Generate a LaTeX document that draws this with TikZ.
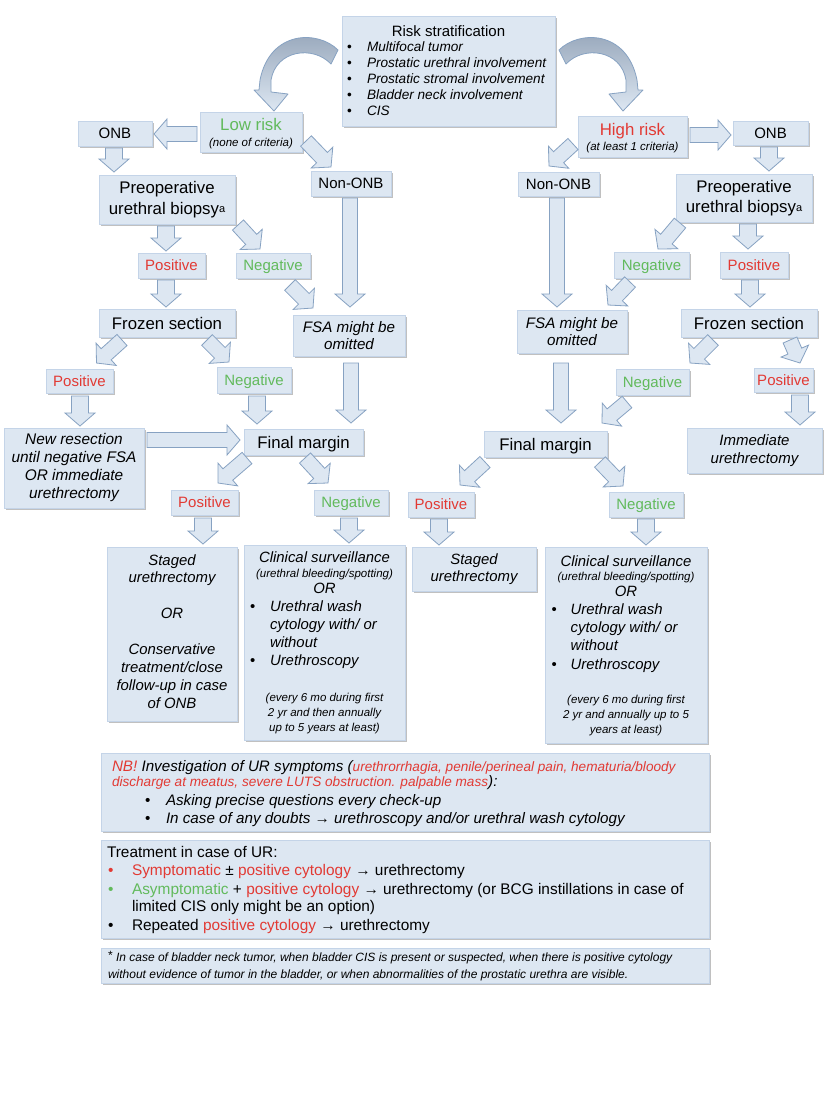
\documentclass[tikz,border=0pt]{standalone}
\usepackage{fontspec}
\setmainfont{Liberation Sans}
\usetikzlibrary{calc,shadows}

\definecolor{boxfill}{RGB}{221,231,242}
\definecolor{boxline}{RGB}{196,212,232}
\definecolor{arrowfill}{RGB}{221,231,242}
\definecolor{arrowline}{RGB}{135,162,194}
\definecolor{curvetop}{RGB}{150,166,186}
\definecolor{txtred}{RGB}{226,58,52}
\definecolor{txtgreen}{RGB}{98,186,92}

\newcommand\fs[2]{\fontsize{#1}{#2}\selectfont}
\newcommand\Lc[2]{\vskip#1\relax\hbox to\hsize{\hss\raisebox{0pt}[0pt][0pt]{#2}\hss}}
\newcommand\Ll[3]{\vskip#1\relax\hbox to\hsize{\hskip#2\relax\raisebox{0pt}[0pt][0pt]{#3}\hss}}
\newcommand\Lb[5]{\vskip#1\relax\hbox to\hsize{\hskip#2\relax\raisebox{0pt}[0pt][0pt]{\rlap{\upshape\color{#4}•}\hskip\dimexpr#3-#2\relax #5}\hss}}
\newcommand\Stack[3]{\vbox to#2{\hsize=#1\relax\offinterlineskip #3\vss}}

\newcommand\barrow[3][7.5pt]{%
 \coordinate (ba) at #2; \coordinate (bb) at #3;
 \coordinate (bh) at ($(bb)!13pt!(ba)$);
 \draw[blockarrow] ($(ba)!#1!90:(bb)$) -- ($(bh)!#1!90:(bb)$) -- ($(bh)!15pt!90:(bb)$) -- (bb)
   -- ($(bh)!15pt!-90:(bb)$) -- ($(bh)!#1!-90:(bb)$) -- ($(ba)!#1!-90:(bb)$) -- cycle;}

\begin{document}
\begin{tikzpicture}[x=1pt,y=-1pt,
  box/.style={draw=boxline, line width=0.6pt, fill=boxfill, inner sep=0pt, outer sep=0pt,
    drop shadow={shadow xshift=1.8pt, shadow yshift=-1.8pt, fill=black!70, opacity=0.35}},
  lbl/.style={box, text height=12.9pt, text depth=2.1pt, font=\fs{15}{18}},
  posbox/.style={lbl, text=txtred},
  negbox/.style={lbl, text=txtgreen},
  bigbox/.style={box, text height=14.4pt, text depth=2.4pt, font=\fs{16.8}{20}},
  multi/.style={box, align=center},
  blockarrow/.style={draw=arrowline, fill=arrowfill, line width=0.8pt, line join=miter},
  curvearrow/.style={draw=arrowline, line width=0.8pt, top color=curvetop, bottom color=arrowfill, line join=round}]

\fill[white] (0,0) rectangle (828,1096);
\useasboundingbox (0,0) rectangle (828,1096);

% ---------------- top ----------------
\node[box, minimum width=213pt, minimum height=110pt] (risk) at (448.5,71) {\Stack{213pt}{110pt}{\fs{13.6}{16}%
 \Lc{20.5pt}{\fs{15}{18}Risk stratification}%
 \Lb{14.5pt}{5pt}{25pt}{black}{\itshape Multifocal tumor}%
 \Lb{16.1pt}{5pt}{25pt}{black}{\itshape Prostatic urethral involvement}%
 \Lb{16.1pt}{5pt}{25pt}{black}{\itshape Prostatic stromal involvement}%
 \Lb{16.1pt}{5pt}{25pt}{black}{\itshape Bladder neck involvement}%
 \Lb{16.1pt}{5pt}{25pt}{black}{\itshape CIS}}};

\node[box, minimum width=102pt, minimum height=40pt] (lowR) at (251,132) {\Stack{102pt}{40pt}{%
 \Lc{18.7pt}{\fs{16.8}{20}\color{txtgreen}Low risk}%
 \Lc{16pt}{\fs{11.5}{13}\itshape (none of criteria)}}};
\node[box, minimum width=109pt, minimum height=41pt] (highR) at (632.5,136.5) {\Stack{109pt}{41pt}{%
 \Lc{19pt}{\fs{16.8}{20}\color{txtred}High risk}%
 \Lc{15pt}{\fs{11.5}{13}\itshape (at least 1 criteria)}}};

% ---------------- left branch ----------------
\node[lbl, minimum width=74pt, minimum height=25pt] (onbL) at (115,133.5) {ONB};
\node[lbl, minimum width=80pt, minimum height=25pt] (nonL) at (351,183.5) {Non-ONB};
\node[multi, font=\fs{16.8}{20.5}, minimum width=136pt, minimum height=49pt] (preL) at (167,199.5) {Preoperative\\urethral biopsy\raisebox{1.5pt}{\fs{11}{12}a}};
\node[posbox, minimum width=67pt, minimum height=25pt] (posL1) at (171.5,265.5) {Positive};
\node[negbox, minimum width=74pt, minimum height=25pt] (negL1) at (273,265.5) {Negative};
\node[bigbox, minimum width=136pt, minimum height=28pt] (frzL) at (167,323) {Frozen section};
\node[multi, font=\fs{15.2}{17.3}\itshape, minimum width=112pt, minimum height=41pt] (fsaL) at (349,335.5) {FSA might be\\omitted};
\node[posbox, minimum width=67pt, minimum height=24pt] (posL2) at (79.5,381) {Positive};
\node[negbox, minimum width=74pt, minimum height=26pt] (negL2) at (254,380) {Negative};
\node[multi, font=\fs{15.4}{18}\itshape, minimum width=140pt, minimum height=80pt] (newres) at (74,468) {New resection\\until negative FSA\\OR immediate\\urethrectomy};
\node[bigbox, minimum width=119pt, minimum height=26pt] (finL) at (303.5,442) {Final margin};
\node[posbox, minimum width=67pt, minimum height=25pt] (posL3) at (204.5,502.5) {Positive};
\node[negbox, minimum width=74pt, minimum height=25pt] (negL3) at (351,502.5) {Negative};
\node[box, minimum width=130pt, minimum height=174pt] (stgL) at (172,634) {\Stack{130pt}{174pt}{\itshape\fs{14.9}{18}%
 \Lc{18pt}{Staged}\Lc{17.9pt}{urethrectomy}\Lc{35.8pt}{OR}\Lc{35.8pt}{Conservative}%
 \Lc{17.9pt}{treatment/close}\Lc{17.9pt}{follow-up in case}\Lc{17.9pt}{of ONB}}};
\node[box, minimum width=161pt, minimum height=195pt] (clnL) at (324.5,642.5) {\Stack{161pt}{195pt}{\itshape\fs{14.9}{18}%
 \Lc{17.3pt}{Clinical surveillance}%
 \Lc{15.4pt}{\fs{11.5}{13}(urethral bleeding/spotting)}%
 \Lc{15.6pt}{OR}%
 \Lb{17.7pt}{6pt}{26pt}{black}{Urethral wash}%
 \Ll{18.2pt}{26pt}{cytology with/ or}%
 \Ll{18.2pt}{26pt}{without}%
 \Lb{18.2pt}{6pt}{26pt}{black}{Urethroscopy}%
 \Lc{35.9pt}{\fs{11.5}{13}(every 6 mo during first}%
 \Lc{15pt}{\fs{11.5}{13}2 yr and then annually}%
 \Lc{15pt}{\fs{11.5}{13}up to 5 years at least)}}};

% ---------------- right branch ----------------
\node[lbl, minimum width=75pt, minimum height=24pt] (onbR) at (770.5,133) {ONB};
\node[lbl, minimum width=81pt, minimum height=24pt] (nonR) at (558.5,184) {Non-ONB};
\node[multi, font=\fs{16.8}{20.5}, minimum width=136pt, minimum height=48pt] (preR) at (744,198) {Preoperative\\urethral biopsy\raisebox{1.5pt}{\fs{11}{12}a}};
\node[negbox, minimum width=75pt, minimum height=26pt] (negR1) at (651.5,265) {Negative};
\node[posbox, minimum width=68pt, minimum height=26pt] (posR1) at (754,265) {Positive};
\node[multi, font=\fs{15.2}{17.3}\itshape, minimum width=110pt, minimum height=43pt] (fsaR) at (572,331.5) {FSA might be\\omitted};
\node[bigbox, minimum width=136pt, minimum height=28pt] (frzR) at (749,323) {Frozen section};
\node[negbox, minimum width=73pt, minimum height=26pt] (negR2) at (652.5,382) {Negative};
\node[posbox, minimum width=59pt, minimum height=24pt] (posR2) at (783.5,380) {Positive};
\node[multi, font=\fs{15}{17.6}\itshape, minimum width=135pt, minimum height=45pt] (immR) at (754.5,450.5) {Immediate\\urethrectomy};
\node[bigbox, minimum width=123pt, minimum height=26pt] (finR) at (545.5,444) {Final margin};
\node[posbox, minimum width=66pt, minimum height=25pt] (posR3) at (441,504.5) {Positive};
\node[negbox, minimum width=74pt, minimum height=25pt] (negR3) at (646,504.5) {Negative};
\node[multi, font=\fs{14.9}{17.6}\itshape, minimum width=124pt, minimum height=44pt] (stgR) at (474,569) {Staged\\urethrectomy};
\node[box, minimum width=162pt, minimum height=196pt] (clnR) at (626,645) {\Stack{162pt}{196pt}{\itshape\fs{14.9}{18}%
 \Lc{19pt}{Clinical surveillance}%
 \Lc{14.5pt}{\fs{11.5}{13}(urethral bleeding/spotting)}%
 \Lc{16.2pt}{OR}%
 \Lb{17.3pt}{6.5pt}{25.7pt}{black}{Urethral wash}%
 \Ll{18.4pt}{25.7pt}{cytology with/ or}%
 \Ll{18.4pt}{25.7pt}{without}%
 \Lb{18.4pt}{6.5pt}{25.7pt}{black}{Urethroscopy}%
 \Lc{34.5pt}{\fs{11.5}{13}(every 6 mo during first}%
 \Lc{15pt}{\fs{11.5}{13}2 yr and annually up to 5}%
 \Lc{15pt}{\fs{11.5}{13}years at least)}}};

% ---------------- bottom notes ----------------
\node[box, minimum width=608pt, minimum height=78pt] (nb) at (405,792) {\Stack{608pt}{78pt}{\itshape\fs{15.2}{18}%
 \Ll{18pt}{11pt}{\textcolor{txtred}{NB!} Investigation of UR symptoms (\textcolor{txtred}{\fs{13.6}{16}urethrorrhagia, penile/perineal pain, hematuria/bloody}}%
 \Ll{15.7pt}{11pt}{\textcolor{txtred}{\fs{13.6}{16}discharge at meatus, severe LUTS obstruction. palpable mass}):}%
 \Lb{18.3pt}{44pt}{65pt}{black}{Asking precise questions every check-up}%
 \Lb{18.3pt}{44pt}{65pt}{black}{In case of any doubts → urethroscopy and/or urethral wash cytology}}};
\node[box, minimum width=608pt, minimum height=98pt] (trt) at (405,889) {\Stack{608pt}{98pt}{\fs{15.4}{18}%
 \Ll{17.3pt}{6pt}{Treatment in case of UR:}%
 \Lb{18.4pt}{7pt}{31pt}{txtred}{\textcolor{txtred}{Symptomatic} ± \textcolor{txtred}{positive cytology} → urethrectomy}%
 \Lb{18.3pt}{7pt}{31pt}{txtgreen}{\textcolor{txtgreen}{Asymptomatic} + \textcolor{txtred}{positive cytology} → urethrectomy (or BCG instillations in case of}%
 \Ll{17.7pt}{31pt}{limited CIS only might be an option)}%
 \Lb{18.3pt}{7pt}{31pt}{black}{Repeated \textcolor{txtred}{positive cytology} → urethrectomy}}};
\node[box, minimum width=608pt, minimum height=35pt] (fn) at (405,965.5) {\Stack{608pt}{35pt}{\itshape\fs{12}{14}%
 \Ll{13.7pt}{7pt}{{\upshape\raisebox{2pt}{*}} In case of bladder neck tumor, when bladder CIS is present or suspected, when there is positive cytology}%
 \Ll{16.6pt}{7pt}{without evidence of tumor in the bladder, or when abnormalities of the prostatic urethra are visible.}}};

% ---------------- curved arrows ----------------
\draw[curvearrow] (338,50) .. controls (318,30) and (270,30) .. (260,80) -- (259,90) -- (254,90) -- (274,111) -- (288,94) -- (271,92) -- (271,80) .. controls (276,50) and (313,45) .. (331,64) -- cycle;
\draw[curvearrow] (559,50) .. controls (579,30) and (627,30) .. (637,80) -- (638,90) -- (643,90) -- (623,111) -- (609,94) -- (626,92) -- (626,80) .. controls (621,50) and (584,45) .. (566,64) -- cycle;

% ---------------- block arrows, left ----------------
\barrow{($(lowR.west)+(-3,2)$)}{($(onbL.east)+(2,0.5)$)}
\barrow{($(lowR.east)+(4,9)$)}{($(nonL.north)+(-20,-4)$)}
\barrow[8.5pt]{($(onbL.south)+(-1,2)$)}{($(preL.north west)+(15,-3)$)}
\barrow[8.5pt]{($(preL.south)+(-1,2)$)}{($(posL1.north)+(-5.5,-2)$)}
\barrow{($(preL.south east)+(3,1)$)}{($(negL1.north west)+(24,-4)$)}
\barrow[8.5pt]{($(posL1.south)+(-5.5,2)$)}{($(frzL.north)+(-1,-2)$)}
\barrow{($(negL1.south east)+(-20,7)$)}{($(fsaL.north west)+(20,-7)$)}
\barrow{($(nonL.south)+(-1,2)$)}{($(fsaL.north)+(1,-8)$)}
\barrow{($(frzL.south west)+(23,3)$)}{($(posL2.north)+(17,-6)$)}
\barrow{($(frzL.south east)+(-28,3)$)}{($(negL2.north)+(-25,-5)$)}
\barrow[8.5pt]{($(posL2.south)+(0.5,3)$)}{($(newres.north)+(6,-2)$)}
\barrow[8.5pt]{($(negL2.south)+(3,3)$)}{($(finL.north west)+(13,-5)$)}
\barrow{($(fsaL.south)+(2,7)$)}{($(finL.north east)+(-12,-6)$)}
\barrow{($(newres.east)+(3,-28)$)}{($(finL.west)+(-4,-2)$)}
\barrow{($(finL.south west)+(3,3)$)}{($(posL3.north east)+(-20,-7)$)}
\barrow{($(finL.south east)+(-58,3)$)}{($(negL3.north)+(-23,-7)$)}
\barrow[8.5pt]{($(posL3.south)+(-1.5,3)$)}{($(stgL.north)+(31,-3)$)}
\barrow[8.5pt]{($(negL3.south)+(-2,3)$)}{($(clnL.north)+(24.5,-2)$)}

% ---------------- block arrows, right ----------------
\barrow{($(highR.east)+(3,-1.5)$)}{($(onbR.west)+(-2,2)$)}
\barrow{($(highR.south west)+(-5,-13)$)}{($(nonR.north)+(-9.5,-6)$)}
\barrow[8.5pt]{($(onbR.south)+(-1.5,2)$)}{($(preR.north)+(25,-3)$)}
\barrow{($(preR.south west)+(4,1)$)}{($(negR1.north)+(6.5,-3)$)}
\barrow[8.5pt]{($(preR.south)+(4,2)$)}{($(posR1.north)+(-6,-3)$)}
\barrow[8.5pt]{($(posR1.south)+(-4,2)$)}{($(frzR.north)+(1,-2)$)}
\barrow{($(negR1.south west)+(16,4)$)}{($(fsaR.north east)+(-19,-5)$)}
\barrow{($(nonR.south)+(-1.5,2)$)}{($(fsaR.north)+(-15,-3)$)}
\barrow{($(frzR.south west)+(32,3)$)}{($(negR2.north)+(37.5,-6)$)}
\barrow{($(frzR.south east)+(-27,3)$)}{($(posR2.north)+(16.5,-5)$)}
\barrow[8.5pt]{($(posR2.south)+(16.5,3)$)}{($(immR.north)+(45.5,-3)$)}
\barrow{($(negR2.south west)+(11,7)$)}{($(finR.north east)+(-5,-8)$)}
\barrow{($(fsaR.south)+(-11,10)$)}{($(finR.north)+(15.5,-8)$)}
\barrow{($(finR.south west)+(1,5)$)}{($(posR3.north)+(19,-7)$)}
\barrow{($(finR.south east)+(-7,5)$)}{($(negR3.north)+(-23,-6)$)}
\barrow[8.5pt]{($(posR3.south)+(-2,2)$)}{($(stgR.north)+(-35,-2)$)}
\barrow[8.5pt]{($(negR3.south)+(0,2)$)}{($(clnR.north)+(20,-2)$)}
\end{tikzpicture}
\end{document}
